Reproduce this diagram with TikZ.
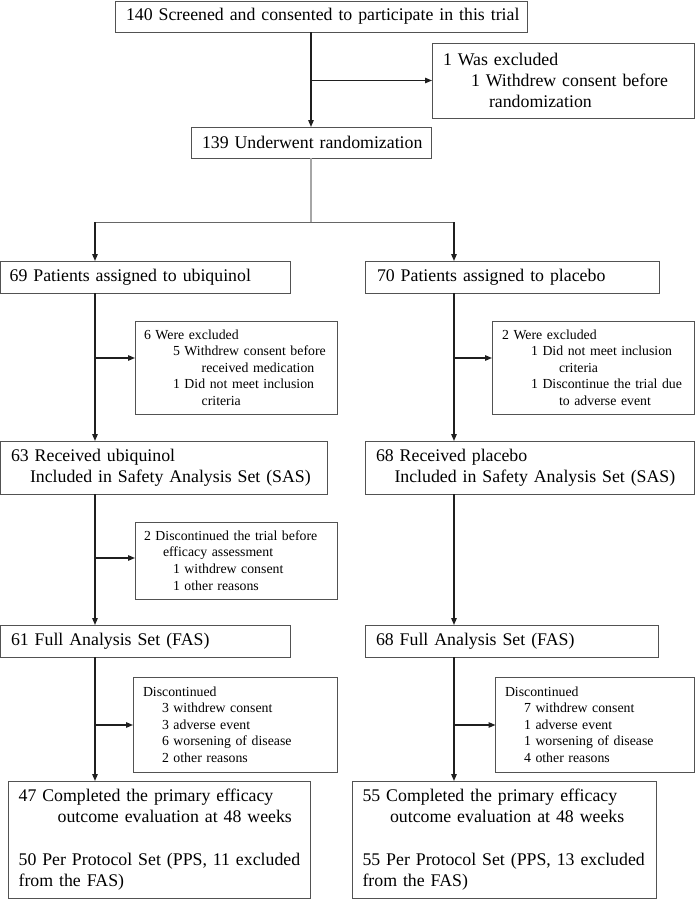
\documentclass[tikz,border=0pt]{standalone}
\usepackage{fontspec}
\setmainfont{Liberation Serif}
\usetikzlibrary{arrows.meta}
\newcommand{\ind}[2]{\hspace*{#1pt}\mbox{#2}}
\newcommand{\mainsz}{\fontsize{17.8}{21.3}\selectfont}
\newcommand{\smallsz}{\fontsize{13.8}{16.6}\selectfont}
\begin{document}
\begin{tikzpicture}[x=1pt,y=-1pt,
  box/.style={draw=black!68, line width=1pt, anchor=north west, inner ysep=0pt, align=left, outer sep=0pt},
  mtext/.style={font=\mainsz},
  stext/.style={font=\smallsz},
  arr/.style={draw=black!88, line width=1.3pt, -{Triangle[length=7pt,width=5.5pt]}},
  gline/.style={draw=black!35, line width=1.8pt},
  hline/.style={draw=black!60, line width=0.9pt}]
\useasboundingbox (0,0) rectangle (695,900);

% boxes
\node[box, mtext, text width=390pt, inner xsep=11pt, minimum height=31pt] (top) at (115,1)
  {\mbox{140 Screened and consented to participate in this trial}};
\node[box, mtext, text width=240pt, inner xsep=11pt, minimum height=75pt] (excl0) at (432,43)
  {\mbox{1 Was excluded}\\ \ind{28}{1 Withdrew consent before}\\ \ind{46}{randomization}};
\node[box, mtext, text width=218pt, inner xsep=11pt, minimum height=31pt] (rand) at (191,127)
  {\mbox{139 Underwent randomization}};

\node[box, mtext, text width=271.3pt, inner xsep=9pt, minimum height=32pt] (ubi) at (0.7,261)
  {\mbox{69 Patients assigned to ubiquinol}};
\node[box, mtext, text width=270pt, inner xsep=12pt, minimum height=32pt] (pla) at (365,261)
  {\mbox{70 Patients assigned to placebo}};

\node[box, stext, text width=184pt, inner xsep=9pt, minimum height=93pt] (exA) at (135,321)
  {\mbox{6 Were excluded}\\ \ind{29}{5 Withdrew consent before}\\ \ind{57.7}{received medication}\\ \ind{29}{1 Did not meet inclusion}\\ \ind{57.7}{criteria}};
\node[box, stext, text width=182pt, inner xsep=10pt, minimum height=93pt] (exB) at (492,321)
  {\mbox{2 Were excluded}\\ \ind{29}{1 Did not meet inclusion}\\ \ind{57}{criteria}\\ \ind{29}{1 Discontinue the trial due}\\ \ind{57}{to adverse event}};

\node[box, mtext, text width=305.7pt, inner xsep=10.3pt, minimum height=53pt] (sasA) at (0.7,441)
  {\mbox{63 Received ubiquinol}\\ \ind{19}{Included in Safety Analysis Set (SAS)}};
\node[box, mtext, text width=307pt, inner xsep=11pt, minimum height=53pt] (sasB) at (365,441)
  {\mbox{68 Received placebo}\\ \ind{18.5}{Included in Safety Analysis Set (SAS)}};

\node[box, stext, text width=184pt, inner xsep=9pt, minimum height=77pt] (discA) at (135,522)
  {\mbox{2 Discontinued the trial before}\\ \ind{19}{efficacy assessment}\\ \ind{29}{1 withdrew consent}\\ \ind{29}{1 other reasons}};

\node[box, mtext, text width=268.7pt, inner xsep=10.3pt, minimum height=32pt] (fasA) at (0.7,625)
  {\mbox{61 Full Analysis Set (FAS)}};
\node[box, mtext, text width=271pt, inner xsep=11pt, minimum height=32pt] (fasB) at (365,625)
  {\mbox{68 Full Analysis Set (FAS)}};

\node[box, stext, text width=184pt, inner xsep=10pt, minimum height=95pt] (dA) at (133,677)
  {\mbox{Discontinued}\\ \ind{19}{3 withdrew consent}\\ \ind{19}{3 adverse event}\\ \ind{19}{6 worsening of disease}\\ \ind{19}{2 other reasons}};
\node[box, stext, text width=179.5pt, inner xsep=9.5pt, minimum height=95pt] (dB) at (495.5,677)
  {\mbox{Discontinued}\\ \ind{19}{7 withdrew consent}\\ \ind{19}{1 adverse event}\\ \ind{19}{1 worsening of disease}\\ \ind{19}{4 other reasons}};

\node[box, mtext, text width=280.8pt, inner xsep=10.6pt, minimum height=117.5pt] (endA) at (8,781)
  {\mbox{47 Completed the primary efficacy}\\ \ind{39}{outcome evaluation at 48 weeks}\\[21.3pt] \mbox{50 Per Protocol Set (PPS, 11 excluded}\\ \mbox{from the FAS)}};
\node[box, mtext, text width=283.5pt, inner xsep=10pt, minimum height=117.5pt] (endB) at (352.5,781)
  {\mbox{55 Completed the primary efficacy}\\ \ind{27.5}{outcome evaluation at 48 weeks}\\[21.3pt] \mbox{55 Per Protocol Set (PPS, 13 excluded}\\ \mbox{from the FAS)}};

% split coordinates
\coordinate (sl) at (95,222);
\coordinate (sr) at (454,222);
\coordinate (ja) at (95,358);
\coordinate (jb) at (454,358);
\coordinate (ka) at (95,558);
\coordinate (la) at (95,725);
\coordinate (lb) at (455,725);

% connectors
\draw[arr] (rand.north |- top.south) -- (rand.north);
\draw[arr] (rand.north |- excl0.west) -- (excl0.west);
\draw[gline] (rand.south) -- (rand.south |- sl);
\draw[hline] (sl) -- (sr);
\draw[arr] (sl) -- (sl |- ubi.north);
\draw[arr] (sr) -- (sr |- pla.north);

\draw[arr] (sl |- ubi.south) -- (sl |- sasA.north);
\draw[arr] (ja) -- (ja -| exA.west);
\draw[arr] (sl |- sasA.south) -- (sl |- fasA.north);
\draw[arr] (ka) -- (ka -| discA.west);
\draw[arr] (sl |- fasA.south) -- (sl |- endA.north);
\draw[arr] (la) -- (la -| dA.west);

\draw[arr] (sr |- pla.south) -- (sr |- sasB.north);
\draw[arr] (jb) -- (jb -| exB.west);
\draw[arr] (sr |- sasB.south) -- (sr |- fasB.north);
\draw[arr] (sr |- fasB.south) -- (sr |- endB.north);
\draw[arr] (lb) -- (lb -| dB.west);
\end{tikzpicture}
\end{document}
